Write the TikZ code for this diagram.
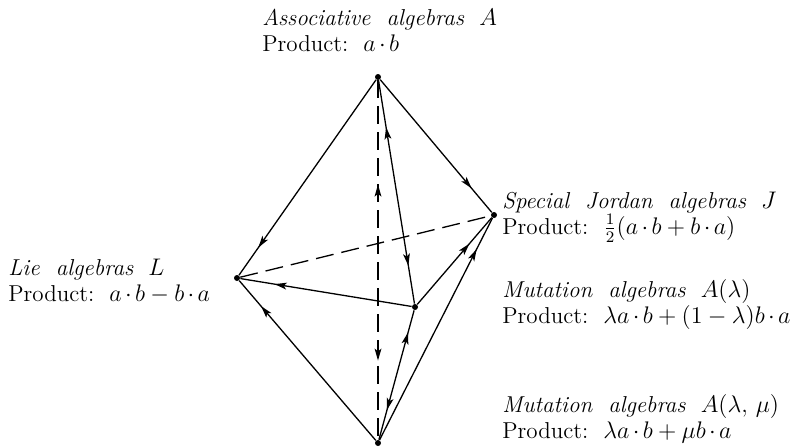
\documentclass[tikz,border=0pt]{standalone}
\usepackage{amsmath}
\usetikzlibrary{arrows.meta, decorations.markings}

\newcommand{\pdot}{\mskip2.5mu\mathord{\cdot}\mskip2.5mu}

\tikzset{
    vertex/.style={circle, fill=black, inner sep=0pt, minimum size=3pt},
    edge/.style={line width=0.65pt},
    dashedge/.style={line width=0.65pt, dash pattern=on 9pt off 4pt},
    tipto/.style={postaction={decorate, decoration={markings,
        mark=at position #1 with {\arrow{Stealth[length=6pt, width=3.4pt, inset=1.4pt]}}}}},
    tipback/.style={postaction={decorate, decoration={markings,
        mark=at position #1 with {\arrowreversed{Stealth[length=6pt, width=3.4pt, inset=1.4pt]}}}}},
    algtext/.style={anchor=west, inner sep=0pt, align=left, font=\fontsize{11.5pt}{13pt}\selectfont}
}

\begin{document}
\begin{tikzpicture}[x=0.5pt, y=-0.5pt]
    \useasboundingbox (0,0) rectangle (807,447);

    % Vertices of the diagram
    \node[vertex] (A) at (378,77) {};
    \node[vertex] (J) at (494,215) {};
    \node[vertex] (L) at (237,278) {};
    \node[vertex] (M) at (415,307) {};
    \node[vertex] (N) at (378,443) {};

    % Labels of the algebras
    \node[algtext] (Alab) at (262,30) {\textit{Associative\ \ algebras}\ \ $A$\\Product:\ \ $a\pdot b$};
    \node[algtext] (Llab) at (8,281) {\textit{Lie\ \ algebras}\ \ $L$\\Product:\ \ $a\pdot b-b\pdot a$};
    \node[algtext] (Jlab) at (502,217) {\textit{Special\ \ Jordan\ \ algebras}\ \ $J$\\Product:\ \ $\tfrac12(a\pdot b+b\pdot a)$};
    \node[algtext] (Mlab) at (502,304) {\textit{Mutation\ \ algebras}\ \ $A(\lambda)$\\Product:\ \ $\lambda a\pdot b+(1-\lambda)b\pdot a$};
    \node[algtext] (Nlab) at (502,419) {\textit{Mutation\ \ algebras}\ \ $A(\lambda,\,\mu)$\\Product:\ \ $\lambda a\pdot b+\mu b\pdot a$};

    % Solid connectors
    \draw[edge, tipto=0.82] (A) -- (J);
    \draw[edge, tipto=0.86] (A) -- (L);
    \draw[edge, tipback=0.21, tipto=0.83] (A) -- (M);
    \draw[edge, tipto=0.8] (M) -- (L);
    \draw[edge, tipto=0.7] (M) -- (J);
    \draw[edge, tipto=0.84] (N) -- (L);
    \draw[edge, tipback=0.23, tipto=0.83] (N) -- (M);
    \draw[edge, tipto=0.86] (N) -- (J);

    % Dashed connectors
    \draw[dashedge] (L) -- (J);
    \draw[dashedge, tipback=0.29, tipto=0.78] (A) -- (N);
\end{tikzpicture}
\end{document}
